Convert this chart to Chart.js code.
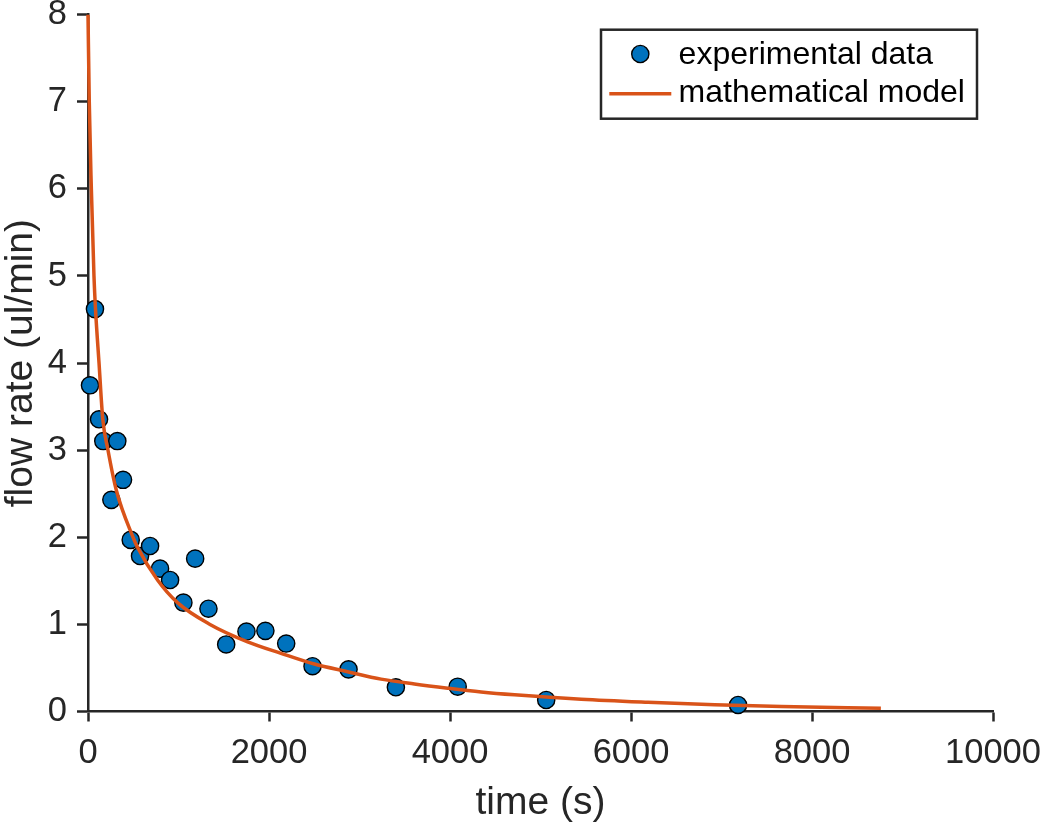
<!DOCTYPE html>
<html>
<head>
<meta charset="utf-8">
<script src="https://cdn.jsdelivr.net/npm/chart.js@4/dist/chart.umd.min.js"></script>
<style>
html, body { margin: 0; padding: 0; background: #ffffff; }
#wrap { width: 1042px; height: 825px; }
</style>
</head>
<body>
<div id="wrap"><canvas id="c" width="1042" height="825"></canvas></div>
<script>
// ---- data ----
const expTime = [22, 77, 122, 169, 258, 324, 387, 472, 575, 686, 796, 907, 1054, 1184, 1331, 1527, 1751, 1960, 2190, 2481, 2879, 3402, 4085, 5063, 7183];
const expFlow = [3.745, 4.62, 3.355, 3.105, 2.43, 3.105, 2.66, 1.97, 1.785, 1.90, 1.64, 1.51, 1.25, 1.755, 1.18, 0.77, 0.918, 0.926, 0.78, 0.52, 0.484, 0.278, 0.285, 0.132, 0.075];

const modelTime = [0, 14, 37, 66, 83, 122, 163, 221, 313, 498, 545, 768, 989, 1348, 1764, 2132, 2501, 2869, 3238, 3607, 3976, 4344, 4713, 5450, 6187, 6925, 7663, 8761];
const modelFlow = [8.0, 7.0, 6.0, 5.0, 4.62, 4.0, 3.36, 3.0, 2.54, 2.0, 1.89, 1.51, 1.25, 1.0, 0.80, 0.668, 0.545, 0.457, 0.372, 0.316, 0.268, 0.225, 0.192, 0.14, 0.105, 0.077, 0.056, 0.038];

const xTicks = [0, 2000, 4000, 6000, 8000, 10000];
const yTicks = [0, 1, 2, 3, 4, 5, 6, 7, 8];

const seriesLabels = ['experimental data', 'mathematical model'];
const xTitle = 'time (s)';
const yTitle = 'flow rate (ul/min)';

// ---- styling ----
const FONT = "'Liberation Sans', Arial, Helvetica, sans-serif";
const AXIS = '#262626';
const BLUE = '#0072BD';
const ORANGE = '#D95319';

const expPoints = expTime.map((t, i) => ({ x: t, y: expFlow[i] }));
const modelPoints = modelTime.map((t, i) => ({ x: t, y: modelFlow[i] }));

const boxLegend = {
  id: 'boxLegend',
  afterDraw(chart) {
    const ctx = chart.ctx;
    const a = chart.chartArea;
    const bw = 376, bh = 89;
    const bx = a.right - 16 - bw;
    const by = a.top + 15;
    ctx.save();
    ctx.fillStyle = '#ffffff';
    ctx.fillRect(bx, by, bw, bh);
    ctx.lineWidth = 2.5;
    ctx.strokeStyle = AXIS;
    ctx.strokeRect(bx, by, bw, bh);
    // marker
    ctx.beginPath();
    ctx.arc(bx + 39.3, by + 24.3, 8.6, 0, Math.PI * 2);
    ctx.fillStyle = BLUE;
    ctx.fill();
    ctx.lineWidth = 1.4;
    ctx.strokeStyle = '#000000';
    ctx.stroke();
    // line
    ctx.beginPath();
    ctx.moveTo(bx + 8.3, by + 64);
    ctx.lineTo(bx + 70.3, by + 64);
    ctx.lineWidth = 3.5;
    ctx.strokeStyle = ORANGE;
    ctx.stroke();
    // text
    ctx.fillStyle = '#000000';
    ctx.font = '32px ' + FONT;
    ctx.textAlign = 'left';
    ctx.textBaseline = 'middle';
    const ds = chart.data.datasets;
    const labelOf = (key) => ds.find(d => d.key === key).label;
    ctx.fillText(labelOf('exp'), bx + 77.6, by + 25.5);
    ctx.fillText(labelOf('model'), bx + 77.6, by + 63);
    ctx.restore();
  }
};

new Chart(document.getElementById('c'), {
  type: 'scatter',
  data: {
    datasets: [
      {
        key: 'model',
        type: 'line',
        label: seriesLabels[1],
        data: modelPoints,
        borderColor: ORANGE,
        borderWidth: 3.5,
        pointRadius: 0,
        fill: false,
        cubicInterpolationMode: 'monotone',
        clip: false,
        order: 1
      },
      {
        key: 'exp',
        type: 'scatter',
        label: seriesLabels[0],
        data: expPoints,
        backgroundColor: BLUE,
        borderColor: '#000000',
        borderWidth: 1.4,
        pointRadius: 8.6,
        pointHoverRadius: 8.6,
        clip: false,
        order: 2
      }
    ]
  },
  options: {
    responsive: false,
    animation: false,
    events: [],
    layout: { padding: { left: 0, top: 14.7, right: 49, bottom: 0 } },
    plugins: {
      legend: { display: false },
      tooltip: { enabled: false }
    },
    scales: {
      x: {
        type: 'linear',
        min: 0,
        max: 10000,
        afterBuildTicks: s => { s.ticks = xTicks.map(v => ({ value: v })); },
        afterFit: s => { s.height = 113.5; s.paddingLeft = 0; s.paddingRight = 0; },
        ticks: {
          color: AXIS,
          font: { family: FONT, size: 34.5, lineHeight: 1.2 },
          padding: 10.8,
          maxRotation: 0,
          autoSkip: false,
          callback: v => String(v)
        },
        grid: {
          display: true,
          drawOnChartArea: false,
          drawTicks: true,
          tickLength: 10,
          tickWidth: 2.5,
          tickColor: AXIS,
          color: AXIS
        },
        border: { display: true, color: AXIS, width: 2.5 },
        title: {
          display: true,
          text: xTitle,
          color: AXIS,
          font: { family: FONT, size: 39, lineHeight: 1 },
          padding: { top: 0, bottom: 2.5 }
        }
      },
      y: {
        type: 'linear',
        min: 0,
        max: 8,
        afterBuildTicks: s => { s.ticks = yTicks.map(v => ({ value: v })); },
        afterFit: s => { s.width = 88; s.paddingTop = 0; s.paddingBottom = 0; },
        ticks: {
          color: AXIS,
          font: { family: FONT, size: 34.5, lineHeight: 1.2 },
          padding: 10,
          autoSkip: false,
          callback: v => String(v)
        },
        grid: {
          display: true,
          drawOnChartArea: false,
          drawTicks: true,
          tickLength: 11,
          tickWidth: 2.5,
          tickColor: AXIS,
          color: AXIS
        },
        border: { display: true, color: AXIS, width: 2.5 },
        title: {
          display: true,
          text: yTitle,
          color: AXIS,
          font: { family: FONT, size: 39, lineHeight: 1 },
          padding: { top: 2, bottom: 0 }
        }
      }
    }
  },
  plugins: [boxLegend]
});
</script>
</body>
</html>
